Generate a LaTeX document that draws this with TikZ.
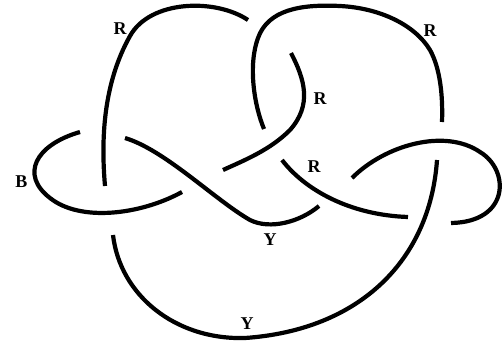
\documentclass[tikz,border=0pt]{standalone}
\usepackage{fontspec}
\setmainfont{Liberation Serif}
\begin{document}
\begin{tikzpicture}[x=1pt,y=-1pt,
  knot/.style={line width=4.2pt, black},
  lbl/.style={font=\fontsize{18}{18}\selectfont\bfseries, inner sep=0pt}]
\useasboundingbox (0,0) rectangle (502,343);
% left big arc
\draw[knot] (105,186) .. controls (101,140) and (103,84) .. (130,36)
  .. controls (150,0) and (215,-2) .. (248,20);
% right big arc
\draw[knot] (264,129) .. controls (254,105) and (248,65) .. (258,38)
  .. controls (268,10) and (300,4) .. (340,6)
  .. controls (380,8) and (415,25) .. (430,50)
  .. controls (440,68) and (443,95) .. (442,122);
% inner arc
\draw[knot] (291,53) .. controls (305,80) and (312,105) .. (290,130)
  .. controls (270,150) and (245,160) .. (223,170);
% lower R strand
\draw[knot] (282,160) .. controls (305,190) and (350,215) .. (408,217);
% right loop
\draw[knot] (352,178) .. controls (385,145) and (445,128) .. (480,152)
  .. controls (510,170) and (510,222) .. (451,223);
% Y strand
\draw[knot] (125,138) .. controls (165,150) and (215,200) .. (250,220)
  .. controls (270,230) and (300,222) .. (319,206);
% B loop
\draw[knot] (80,132) .. controls (35,145) and (20,175) .. (50,198)
  .. controls (80,222) and (140,215) .. (182,192);
% bottom long strand
\draw[knot] (437,160) .. controls (430,260) and (360,330) .. (245,338)
  .. controls (175,340) and (120,295) .. (113,235);
% labels
\node[lbl] (r1) at (120,29) {R};
\node[lbl] (r2) at (430,31) {R};
\node[lbl] (r3) at (320,99) {R};
\node[lbl] (r4) at (314,167) {R};
\node[lbl] (b1) at (21.5,181.5) {B};
\node[lbl] (y1) at (270,240) {Y};
\node[lbl] (y2) at (247,324) {Y};
\end{tikzpicture}
\end{document}
